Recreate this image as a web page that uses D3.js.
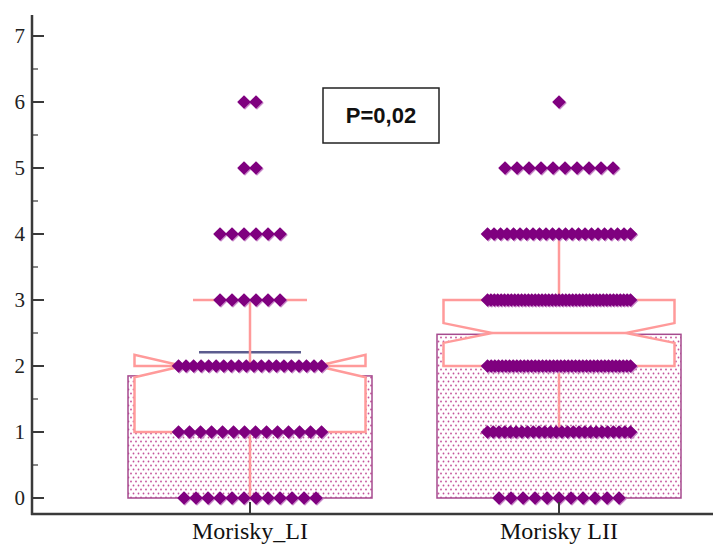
<!DOCTYPE html>
<html>
<head>
<meta charset="utf-8">
<script src="https://cdn.jsdelivr.net/npm/d3@7"></script>
<style>
  body { margin: 0; background: #fff; }
  svg { display: block; }
</style>
</head>
<body>
<svg id="chart" width="713" height="546"></svg>
<script>
// categories and values
let categories = ["Morisky_LI", "Morisky LII"];
let means = [1.85, 2.48];
let meanErrHigh = [2.21, null];
let q1 = [1, 2];
let medians = [2, 2.5];
let q3 = [2, 3];
let notchLow = [1.83, 2.35];
let notchHigh = [2.17, 2.65];
let whiskerLow = [0, 1];
let whiskerHigh = [3, 4];
// number of observations on each score 0..6
let scores = [0, 1, 2, 3, 4, 5, 6];
let countsLI = [12, 14, 20, 6, 6, 2, 2];
let countsLII = [11, 26, 40, 43, 23, 10, 1];
let yTicks = [0, 1, 2, 3, 4, 5, 6, 7];
let pLabel = "P=0,02";

let svg = d3.select("#chart");

let x = d3.scalePoint().domain(categories).range([250, 559]);
let y = d3.scaleLinear().domain([0, 7]).range([498, 36]);

let barW = 244, boxW = 231, capW = 114, errW = 102;
let pink = "#ff9a9a", purple = "#7f007f";

// dotted fill for the mean bars
let defs = svg.append("defs");
let pat = defs.append("pattern")
    .attr("id", "dots")
    .attr("patternUnits", "userSpaceOnUse")
    .attr("width", 5).attr("height", 8);
pat.append("rect").attr("width", 5).attr("height", 8).attr("fill", "#fff");
pat.append("circle").attr("cx", 1).attr("cy", 1.5).attr("r", 0.9).attr("fill", "#c4529a");
pat.append("circle").attr("cx", 3.5).attr("cy", 5.5).attr("r", 0.9).attr("fill", "#c4529a");

// bars
svg.append("g").selectAll("rect")
    .data(categories)
    .enter()
    .append("rect")
    .attr("x", d => x(d) - barW / 2)
    .attr("y", (d, i) => y(means[i]))
    .attr("width", barW)
    .attr("height", (d, i) => y(0) - y(means[i]))
    .attr("fill", "url(#dots)")
    .attr("stroke", "#a64a8e")
    .attr("stroke-width", 1.5);

// notched boxes
let inset = boxW * 0.21;
function boxPath(d, i) {
    let l = x(d) - boxW / 2, r = x(d) + boxW / 2;
    let pts = [
        [l, y(q1[i])], [l, y(notchLow[i])], [l + inset, y(medians[i])],
        [l, y(notchHigh[i])], [l, y(q3[i])], [r, y(q3[i])],
        [r, y(notchHigh[i])], [r - inset, y(medians[i])], [r, y(notchLow[i])],
        [r, y(q1[i])]
    ];
    return d3.line()(pts) + "Z";
}

let boxes = svg.append("g");
boxes.selectAll("path")
    .data(categories)
    .enter()
    .append("path")
    .attr("d", boxPath)
    .attr("fill", "#fff")
    .attr("stroke", pink)
    .attr("stroke-width", 2.5)
    .attr("stroke-linejoin", "miter");
boxes.selectAll("line")
    .data(categories)
    .enter()
    .append("line")
    .attr("x1", d => x(d) - boxW / 2 + inset)
    .attr("x2", d => x(d) + boxW / 2 - inset)
    .attr("y1", (d, i) => y(medians[i]))
    .attr("y2", (d, i) => y(medians[i]))
    .attr("stroke", pink)
    .attr("stroke-width", 2.5);

// mean error line
svg.append("g").selectAll("line")
    .data(categories.filter((d, i) => meanErrHigh[i] != null))
    .enter()
    .append("line")
    .attr("x1", d => x(d) - errW / 2)
    .attr("x2", d => x(d) + errW / 2)
    .attr("y1", d => y(meanErrHigh[categories.indexOf(d)]))
    .attr("y2", d => y(meanErrHigh[categories.indexOf(d)]))
    .attr("stroke", "#5c5c8e")
    .attr("stroke-width", 2.5);

// whiskers
let wh = svg.append("g").attr("stroke", pink).attr("stroke-width", 2.5);
categories.forEach((d, i) => {
    let cx = x(d);
    wh.append("line").attr("x1", cx).attr("x2", cx)
        .attr("y1", y(whiskerHigh[i])).attr("y2", y(q3[i]));
    wh.append("line").attr("x1", cx).attr("x2", cx)
        .attr("y1", y(q1[i])).attr("y2", y(whiskerLow[i]));
    [whiskerLow[i], whiskerHigh[i]].forEach(v => {
        wh.append("line").attr("x1", cx - capW / 2).attr("x2", cx + capW / 2)
            .attr("y1", y(v)).attr("y2", y(v));
    });
});

// points: each score row spread around the category centre
let pts = [];
[countsLI, countsLII].forEach((counts, ci) => {
    counts.forEach((n, si) => {
        let step = n > 1 ? Math.min(12, 143 / (n - 1)) : 0;
        for (let k = 0; k < n; k++) {
            pts.push({cat: categories[ci], v: scores[si], off: (k - (n - 1) / 2) * step});
        }
    });
});

let diamond = "M0,-6.8L6.8,0L0,6.8L-6.8,0Z";
let dots = svg.append("g");
dots.selectAll("path.shade")
    .data(pts)
    .enter()
    .append("path")
    .attr("class", "shade")
    .attr("d", diamond)
    .attr("transform", d => `translate(${x(d.cat) + d.off + 1},${y(d.v) + 1})`)
    .attr("fill", "#c98ac9");
dots.selectAll("path.pt")
    .data(pts)
    .enter()
    .append("path")
    .attr("class", "pt")
    .attr("d", diamond)
    .attr("transform", d => `translate(${x(d.cat) + d.off},${y(d.v)})`)
    .attr("fill", purple);

// axes
let axisColor = "#3a3a3a";
let yAxis = svg.append("g");
yAxis.append("line")
    .attr("x1", 32).attr("x2", 32)
    .attr("y1", 15).attr("y2", 515)
    .attr("stroke", axisColor).attr("stroke-width", 2.5);
yAxis.selectAll("line.major")
    .data(yTicks)
    .enter()
    .append("line")
    .attr("class", "major")
    .attr("x1", 32).attr("x2", 44)
    .attr("y1", d => y(d)).attr("y2", d => y(d))
    .attr("stroke", axisColor).attr("stroke-width", 2);
yAxis.selectAll("line.minor")
    .data(yTicks.slice(0, -1).map(d => d + 0.5))
    .enter()
    .append("line")
    .attr("class", "minor")
    .attr("x1", 32).attr("x2", 38)
    .attr("y1", d => y(d)).attr("y2", d => y(d))
    .attr("stroke", axisColor).attr("stroke-width", 1.2);
yAxis.selectAll("text")
    .data(yTicks)
    .enter()
    .append("text")
    .attr("x", 25)
    .attr("y", d => y(d))
    .attr("dy", "0.35em")
    .attr("text-anchor", "end")
    .attr("font-family", "Liberation Serif, serif")
    .attr("font-size", 21)
    .attr("fill", "#222")
    .text(d => d);

let xAxis = svg.append("g");
xAxis.append("line")
    .attr("x1", 31).attr("x2", 713)
    .attr("y1", 514).attr("y2", 514)
    .attr("stroke", axisColor).attr("stroke-width", 2.5);
xAxis.selectAll("line.tick")
    .data(categories)
    .enter()
    .append("line")
    .attr("class", "tick")
    .attr("x1", d => x(d)).attr("x2", d => x(d))
    .attr("y1", 502).attr("y2", 514)
    .attr("stroke", axisColor).attr("stroke-width", 2);
xAxis.selectAll("text")
    .data(categories)
    .enter()
    .append("text")
    .attr("x", d => x(d))
    .attr("y", 539)
    .attr("text-anchor", "middle")
    .attr("font-family", "Liberation Serif, serif")
    .attr("font-size", 24)
    .attr("fill", "#111")
    .text(d => d);

// p value box
let pg = svg.append("g");
pg.append("rect")
    .attr("x", 323).attr("y", 88)
    .attr("width", 116).attr("height", 55)
    .attr("fill", "#fff")
    .attr("stroke", "#222").attr("stroke-width", 1.5);
pg.append("text")
    .attr("x", 381).attr("y", 123)
    .attr("text-anchor", "middle")
    .attr("font-family", "Liberation Sans, Arial, sans-serif")
    .attr("font-weight", "bold")
    .attr("font-size", 22)
    .attr("fill", "#111")
    .text(pLabel);
</script>
</body>
</html>
